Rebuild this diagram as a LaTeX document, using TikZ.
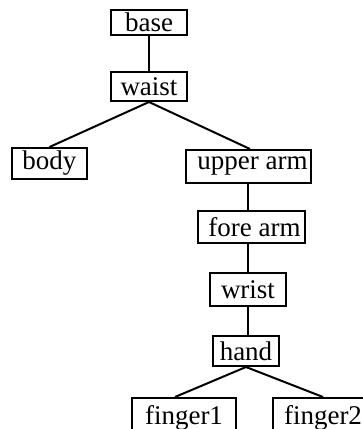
\documentclass[tikz,border=0pt]{standalone}
\usepackage{fontspec}
\setmainfont{Liberation Serif}
\begin{document}
\begin{tikzpicture}[x=1pt,y=-1pt,
  part/.style={draw,line width=2pt,inner sep=0pt,font=\fontsize{27}{29}\selectfont},
  link/.style={line width=2pt}]
\useasboundingbox (0,0) rectangle (363,429);
\clip (0,0) rectangle (363,429);
\node[part,minimum width=76pt,minimum height=25pt] (base) at (149,22.5) {\raisebox{-2pt}{base}};
\node[part,minimum width=76pt,minimum height=29pt] (waist) at (149,86.5) {waist};
\node[part,minimum width=75pt,minimum height=31pt] (body) at (49.5,163.5) {body};
\node[part,minimum width=125pt,minimum height=33pt] (uarm) at (248.5,166.5) {\hspace*{8pt}upper arm};
\node[part,minimum width=107pt,minimum height=32pt] (farm) at (251.5,227) {\hspace*{6pt}fore arm};
\node[part,minimum width=76pt,minimum height=33pt] (wrist) at (248,289.5) {wrist};
\node[part,minimum width=66pt,minimum height=30pt] (hand) at (246,351) {hand};
\node[part,minimum width=104pt,minimum height=40pt] (f1) at (184,418) {\raisebox{3pt}{finger1}};
\node[part,minimum width=94pt,minimum height=40pt] (f2) at (320,418) {\raisebox{3pt}{\hspace*{6pt}finger2}};
\draw[link] (base) -- (waist);
\draw[link] (waist.south) -- (body.north);
\draw[link] (waist.south) -- ([xshift=1.5pt]uarm.north);
\draw[link] ([xshift=-0.5pt]uarm.south) -- ([xshift=-0.5pt]uarm.south |- farm.north);
\draw[link] (wrist.north |- farm.south) -- (wrist.north);
\draw[link] (hand.north -| wrist.south) -- (wrist.south);
\draw[link] (hand.south) -- ([xshift=-9pt]f1.north);
\draw[link] (hand.south) -- ([xshift=3pt]f2.north);
\end{tikzpicture}
\end{document}
